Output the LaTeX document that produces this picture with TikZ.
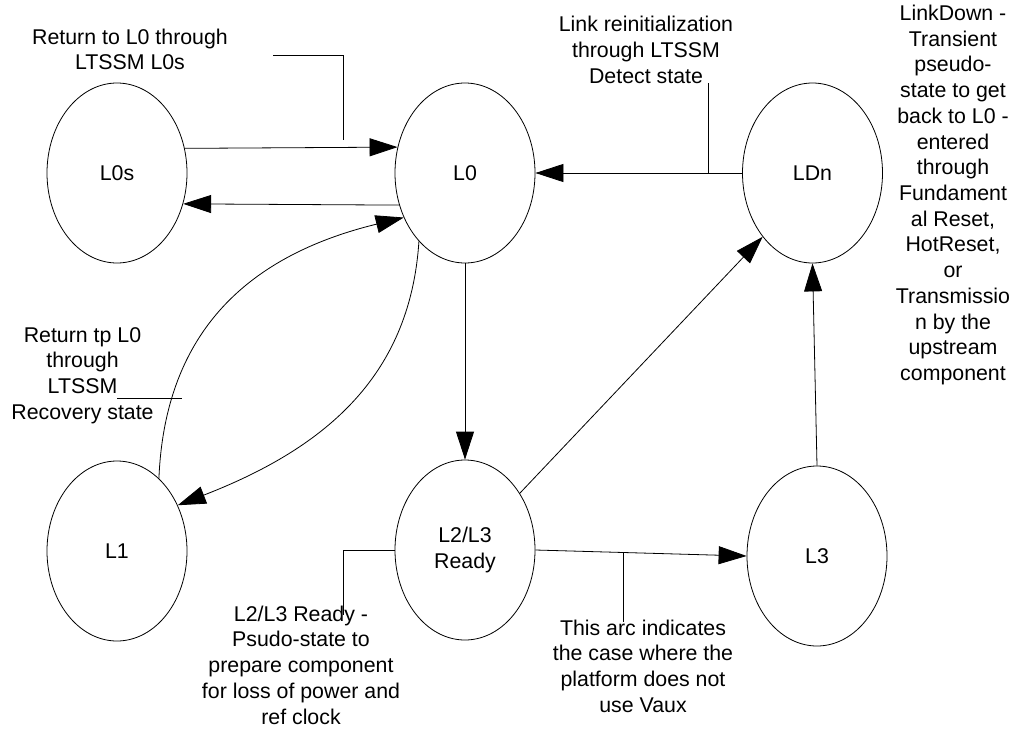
\documentclass[tikz,border=0pt]{standalone}
\usepackage{fontspec}
\setmainfont{Liberation Sans}
\usetikzlibrary{shapes.geometric,arrows.meta}
\newcommand{\lblfont}{\fontsize{16}{19.3}\selectfont}
\begin{document}
\begin{tikzpicture}[x=0.75pt,y=-0.75pt,
  state/.style={draw,ellipse,line width=0.6pt,minimum width=105pt,minimum height=135pt,inner sep=0pt,align=center,font=\lblfont},
  note/.style={align=center,inner sep=0pt,font=\lblfont},
  conn/.style={line width=0.6pt,-{Triangle[length=21pt,width=13.5pt]}},
  lead/.style={line width=0.6pt},
]
\useasboundingbox (0,0) rectangle (1013,728);

% states
\node[state] (L0s) at (117,173) {L0s};
\node[state] (L0) at (465,173) {L0};
\node[state] (LDn) at (812.5,173) {LDn};
\node[state] (L1) at (117,551) {L1};
\node[state] (RDY) at (465,550) {L2/L3\\Ready};
\node[state] (L3) at (817,556) {L3};

% transitions
\draw[conn] (L0s.20.4) -- (L0.159.6);
\draw[conn] (L0.-154.7) -- (L0s.-25.3);
\draw[conn] (LDn.west) -- (L0.east);
\draw[conn] (L0.south) -- (RDY.north);
\draw[conn] (RDY.46) -- (LDn.232);
\draw[conn] (L3.north) -- (LDn.south);
\draw[conn] (RDY.east) -- (L3.west);
\draw[conn] (L0.236) .. controls (410,380) and (320,450) .. (L1.37);
\draw[conn] (L1.60.7) .. controls (165,330) and (250,255) .. (L0.216);

% notes
\node[note] (n1) at (130,49.5) {Return to L0 through\\LTSSM L0s};
\node[note] (n2) at (646,50) {Link reinitialization\\through LTSSM\\Detect state};
\node[note] (n3) at (953,195) {LinkDown -\\Transient\\pseudo-\\state to get\\back to L0 -\\entered\\through\\Fundament\\al Reset,\\HotReset,\\or\\Transmissio\\n by the\\upstream\\component};
\node[note] (n4) at (82.5,375.5) {Return tp L0\\through\\LTSSM\hspace*{65\pgflinewidth}\\Recovery state};
\node[note] (n5) at (301,665) {L2/L3 Ready -\\Psudo-state to\\prepare component\\for loss of power and\\ref clock};
\node[note] (n6) at (643,666) {This arc indicates\\the case where the\\platform does not\\use Vaux};

% leaders
\coordinate (a1) at (273,55);
\coordinate (a1e) at (343,140);
\draw[lead] (a1) -| (a1e);
\coordinate (a2) at (708,83);
\coordinate (a2e) at (708,173);
\draw[lead] (a2) -- (a2e);
\coordinate (a4) at (117,398);
\coordinate (a4e) at (182,398);
\draw[lead] (a4) -- (a4e);
\coordinate (a5e) at (343,615);
\draw[lead] (RDY.west) -| (a5e);
\coordinate (a6) at (623,553);
\coordinate (a6e) at (623,622);
\draw[lead] (a6) -- (a6e);
\end{tikzpicture}
\end{document}
